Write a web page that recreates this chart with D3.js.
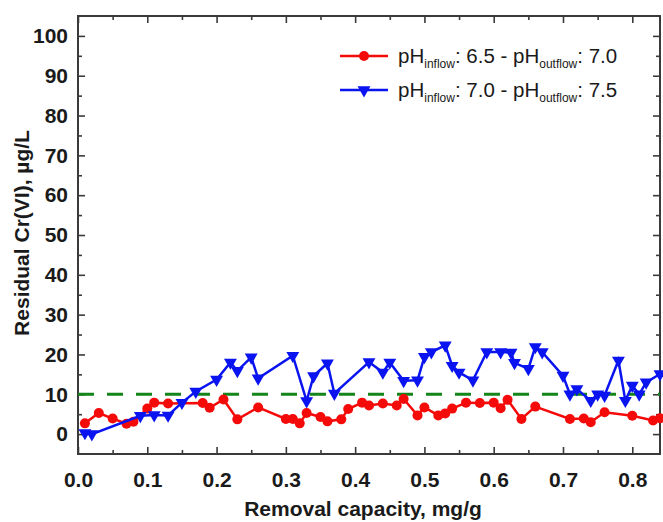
<!DOCTYPE html>
<html>
<head>
<meta charset="utf-8">
<script src="https://cdnjs.cloudflare.com/ajax/libs/d3/7.8.5/d3.min.js"></script>
<style>
  body { margin: 0; background: #fff; }
  svg { display: block; font-family: "Liberation Sans", Arial, sans-serif; }
  .tick-label { font-size: 21px; font-weight: bold; fill: #1a1a1a; }
  .axis-title { font-size: 21px; font-weight: bold; fill: #1a1a1a; }
  .legend text { font-size: 20.5px; fill: #1a1a1a; }
</style>
</head>
<body>
<div id="chart"></div>
<script>
// data
var redX = [0.01, 0.03, 0.05, 0.07, 0.08, 0.10, 0.11, 0.13, 0.18, 0.19, 0.21, 0.23, 0.26, 0.30, 0.31, 0.32, 0.33, 0.35, 0.36, 0.38,
            0.39, 0.41, 0.42, 0.44, 0.46, 0.47, 0.49, 0.50, 0.52, 0.53, 0.54, 0.56, 0.58, 0.60, 0.61, 0.62, 0.64, 0.66, 0.71, 0.73,
            0.74, 0.76, 0.80, 0.83, 0.84];
var redY = [2.7, 5.3, 3.9, 2.6, 3.1, 6.4, 7.9, 7.7, 7.8, 6.6, 8.7, 3.7, 6.7, 3.8, 3.8, 2.7, 5.3, 4.3, 3.2, 3.7,
            6.3, 7.9, 7.2, 7.7, 7.2, 8.8, 4.7, 6.7, 4.7, 5.2, 6.4, 7.9, 7.8, 7.9, 6.5, 8.6, 3.8, 6.9, 3.8, 3.9,
            3.0, 5.5, 4.6, 3.4, 4.0];

var blueX = [0.01, 0.02, 0.09, 0.11, 0.13, 0.15, 0.17, 0.20, 0.22, 0.23, 0.25, 0.26, 0.31, 0.33, 0.34, 0.36, 0.37, 0.42, 0.44, 0.45,
             0.47, 0.49, 0.50, 0.51, 0.53, 0.54, 0.55, 0.57, 0.59, 0.61, 0.625, 0.63, 0.65, 0.66, 0.67, 0.70, 0.71, 0.72, 0.74, 0.75,
             0.76, 0.78, 0.79, 0.80, 0.81, 0.82, 0.84];
var blueY = [0.3, 0.0, 4.6, 4.8, 4.7, 7.9, 10.7, 13.7, 18.0, 15.9, 19.3, 14.0, 19.7, 8.3, 14.6, 17.8, 10.2, 18.1, 15.5, 18.0,
             13.4, 13.5, 19.4, 20.6, 22.3, 17.2, 15.5, 13.5, 20.6, 20.6, 20.5, 17.9, 16.4, 21.9, 20.6, 14.7, 10.0, 11.3, 8.4, 10.0,
             9.7, 18.5, 8.4, 12.2, 10.0, 13.0, 15.1];

var limitY = 10;
var xTicks = [0, 0.1, 0.2, 0.3, 0.4, 0.5, 0.6, 0.7, 0.8];
var yTicks = [0, 10, 20, 30, 40, 50, 60, 70, 80, 90, 100];
var xMinor = [0.05, 0.15, 0.25, 0.35, 0.45, 0.55, 0.65, 0.75];
var yMinor = [5, 15, 25, 35, 45, 55, 65, 75, 85, 95];

var W = 663, H = 522;
var L = 78, R = 660, T = 16, B = 454;

var svg = d3.select('#chart').append('svg')
  .attr('width', W).attr('height', H);

var x = d3.scaleLinear().domain([0, 0.84]).range([L, R]);
var y = d3.scaleLinear().domain([-5, 105]).range([B, T]);

var frameColor = '#3a3a3a';

// ** ------- AXES ------- **
// inward ticks on all four sides
var axBottom = d3.axisBottom(x).tickValues(xTicks).tickSize(-7).tickFormat(d3.format('.1f')).tickPadding(18);
var axLeft = d3.axisLeft(y).tickValues(yTicks).tickSize(-7).tickPadding(10);

svg.append('g').attr('transform', 'translate(0,' + B + ')').call(axBottom);
svg.append('g').attr('transform', 'translate(' + L + ',0)').call(axLeft);

svg.append('g').attr('transform', 'translate(0,' + B + ')')
  .call(d3.axisBottom(x).tickValues(xMinor).tickSize(-4).tickFormat(''));
svg.append('g').attr('transform', 'translate(' + L + ',0)')
  .call(d3.axisLeft(y).tickValues(yMinor).tickSize(-4).tickFormat(''));
svg.append('g').attr('transform', 'translate(0,' + T + ')')
  .call(d3.axisTop(x).tickValues(xTicks).tickSize(-7).tickFormat(''));
svg.append('g').attr('transform', 'translate(0,' + T + ')')
  .call(d3.axisTop(x).tickValues(xMinor).tickSize(-4).tickFormat(''));
svg.append('g').attr('transform', 'translate(' + R + ',0)')
  .call(d3.axisRight(y).tickValues(yTicks).tickSize(-7).tickFormat(''));
svg.append('g').attr('transform', 'translate(' + R + ',0)')
  .call(d3.axisRight(y).tickValues(yMinor).tickSize(-4).tickFormat(''));

svg.selectAll('.domain').remove();
svg.selectAll('.tick line').attr('stroke', frameColor).attr('stroke-width', 1.6);
svg.selectAll('.tick text').attr('class', 'tick-label').attr('font-family', null).attr('font-size', null).attr('fill', null);

svg.append('rect')
  .attr('x', L).attr('y', T).attr('width', R - L).attr('height', B - T)
  .attr('fill', 'none').attr('stroke', frameColor).attr('stroke-width', 2);

svg.append('text').attr('class', 'axis-title')
  .attr('x', (L + R) / 2 - 6).attr('y', 516)
  .attr('text-anchor', 'middle')
  .text('Removal capacity, mg/g');

svg.append('text').attr('class', 'axis-title')
  .attr('transform', 'translate(29,' + 233 + ') rotate(-90)')
  .attr('text-anchor', 'middle')
  .text('Residual Cr(VI), µg/L');

// ** ------- LIMIT LINE ------- **
svg.append('line')
  .attr('x1', x(0)).attr('x2', x(0.84))
  .attr('y1', y(limitY)).attr('y2', y(limitY))
  .attr('stroke', '#13851a').attr('stroke-width', 3)
  .attr('stroke-dasharray', '16,13');

// ** ------- SERIES ------- **
var red = redX.map(function(d, i) { return { x: d, y: redY[i] }; });
var blue = blueX.map(function(d, i) { return { x: d, y: blueY[i] }; });

var line = d3.line().x(function(d) { return x(d.x); }).y(function(d) { return y(d.y); });

var RED = '#f50a0a', BLUE = '#0a14f0';
var tri = d3.symbol().type(d3.symbolTriangle).size(72);

svg.append('path').datum(red)
  .attr('d', line).attr('fill', 'none').attr('stroke', RED).attr('stroke-width', 2.5);
svg.append('g').selectAll('circle').data(red).enter().append('circle')
  .attr('cx', function(d) { return x(d.x); })
  .attr('cy', function(d) { return y(d.y); })
  .attr('r', 5)
  .attr('fill', RED);

svg.append('path').datum(blue)
  .attr('d', line).attr('fill', 'none').attr('stroke', BLUE).attr('stroke-width', 2.5);
svg.append('g').selectAll('path').data(blue).enter().append('path')
  .attr('d', tri)
  .attr('transform', function(d) { return 'translate(' + x(d.x) + ',' + y(d.y) + ') rotate(180)'; })
  .attr('fill', BLUE);

// ** ------- LEGEND ------- **
var legendRows = [
  { color: RED, sym: 'circle', a: '6.5', b: '7.0' },
  { color: BLUE, sym: 'tri', a: '7.0', b: '7.5' }
];
var legend = svg.append('g').attr('class', 'legend');
legendRows.forEach(function(r, i) {
  var cy = 56 + i * 34;
  var g = legend.append('g').attr('transform', 'translate(0,' + cy + ')');
  g.append('line').attr('x1', 340).attr('x2', 388).attr('y1', 0).attr('y2', 0)
    .attr('stroke', r.color).attr('stroke-width', 2.5);
  if (r.sym === 'circle') {
    g.append('circle').attr('cx', 364).attr('cy', 0).attr('r', 5).attr('fill', r.color);
  } else {
    g.append('path').attr('d', tri).attr('transform', 'translate(364,0) rotate(180)').attr('fill', r.color);
  }
  var t = g.append('text').attr('x', 398).attr('y', 7);
  t.append('tspan').text('pH');
  t.append('tspan').attr('font-size', '12px').attr('dy', 5).text('inflow');
  t.append('tspan').attr('dy', -5).text(': ' + r.a + ' - pH');
  t.append('tspan').attr('font-size', '12px').attr('dy', 5).text('outflow');
  t.append('tspan').attr('dy', -5).text(': ' + r.b);
});
</script>
</body>
</html>
